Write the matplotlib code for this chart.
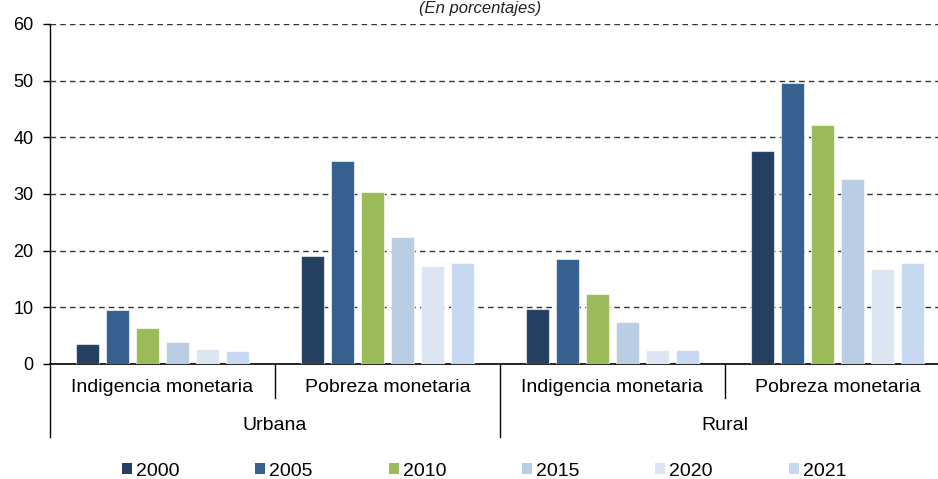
import numpy as np
import matplotlib.pyplot as plt
from matplotlib.transforms import blended_transform_factory

plt.rcParams['font.family'] = ['Liberation Sans', 'DejaVu Sans']

# data
subcats = ['Indigencia monetaria', 'Pobreza monetaria',
           'Indigencia monetaria', 'Pobreza monetaria']
areas = ['Urbana', 'Rural']
years = ['2000', '2005', '2010', '2015', '2020', '2021']
v2000 = [3.5, 19.0, 9.7, 37.6]
v2005 = [9.5, 35.8, 18.5, 49.6]
v2010 = [6.4, 30.4, 12.3, 42.2]
v2015 = [3.8, 22.4, 7.4, 32.7]
v2020 = [2.6, 17.3, 2.5, 16.7]
v2021 = [2.3, 17.9, 2.4, 17.8]
series = [v2000, v2005, v2010, v2015, v2020, v2021]
colors = ['#253F61', '#35608F', '#9BBB59', '#B9CDE5', '#DCE6F2', '#C6D9F1']

fig = plt.figure(figsize=(9.38, 4.79), dpi=100)
ax = fig.add_axes([50 / 938, 115 / 479, 900 / 938, 340 / 479])

x = np.arange(len(subcats))
step = 0.1333
width = 0.103
for i, (vals, c) in enumerate(zip(series, colors)):
    ax.bar(x + (i - 2.5) * step, vals, width, color=c, label=years[i],
           edgecolor=(1, 1, 1, 0.6), linewidth=0.8, zorder=3)

ax.set_xlim(-0.5, 3.5)
ax.set_ylim(0, 60)
ax.set_yticks(range(0, 61, 10))
ax.tick_params(axis='y', labelsize=13, length=5, width=1, pad=7, direction='out')
ax.set_xticks([])
ax.yaxis.grid(True, linestyle=(0, (4, 3)), color='#333333', linewidth=1, zorder=0)
for s in ['top', 'right']:
    ax.spines[s].set_visible(False)
ax.spines['left'].set_linewidth(1)
ax.spines['bottom'].set_linewidth(1.2)

# multi-level category axis
tr = blended_transform_factory(ax.transData, ax.transAxes)
for xs in [0.5, 2.5]:
    ax.plot([xs, xs], [0, -0.1], color='black', lw=1, transform=tr, clip_on=False)
for xs in [-0.5, 1.5]:
    ax.plot([xs, xs], [0, -0.215], color='black', lw=1, transform=tr, clip_on=False)
for xi, lab in zip(x, subcats):
    ax.text(xi, -0.07, lab, transform=tr, ha='center', va='center', fontsize=14)
for xi, lab in zip([0.5, 2.5], areas):
    ax.text(xi, -0.18, lab, transform=tr, ha='center', va='center', fontsize=14)

fig.text(480 / 938, 1 - 1 / 479, '(En porcentajes)', ha='center', va='top',
         fontsize=12, style='italic', color='#222222')

leg = fig.legend(loc='center', bbox_to_anchor=(484 / 938, 1 - 471 / 479), ncol=6,
                 frameon=False, fontsize=14, handlelength=0.52, handleheight=0.52,
                 handletextpad=0.2, columnspacing=3.9)
for h in leg.legend_handles:
    h.set_edgecolor('none')

fig.savefig('out.png', dpi=100)
